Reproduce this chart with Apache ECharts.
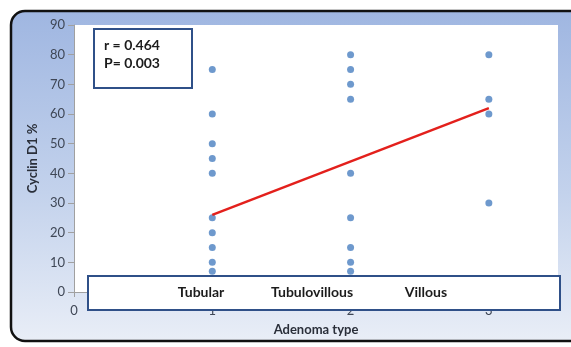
<!DOCTYPE html>
<html>
<head>
<meta charset="utf-8">
<script src="https://cdn.jsdelivr.net/npm/echarts@6/dist/echarts.min.js"></script>
<style>
html,body{margin:0;padding:0;background:#fff;}
#chart{width:571px;height:347px;}
</style>
</head>
<body>
<div id="chart"></div>
<script>
// Data
var categories = ['Tubular', 'Tubulovillous', 'Villous'];
var tubularX = [1, 1, 1, 1, 1, 1, 1, 1, 1, 1];
var tubularY = [75, 60, 50, 45, 40, 25, 20, 15, 10, 7];
var tubulovillousX = [2, 2, 2, 2, 2, 2, 2, 2, 2];
var tubulovillousY = [80, 75, 70, 65, 40, 25, 15, 10, 7];
var villousX = [3, 3, 3, 3];
var villousY = [80, 65, 60, 30];
var trendX = [1, 3];
var trendY = [26, 62];
var yTicks = [0, 10, 20, 30, 40, 50, 60, 70, 80, 90];
var statsText = ['r = 0.464', 'P= 0.003'];
var yAxisTitle = 'Cyclin D1 %';
var xAxisTitle = 'Adenoma type';

function zip(xs, ys) { return xs.map(function (x, i) { return [x, ys[i]]; }); }
var points = zip(tubularX, tubularY).concat(zip(tubulovillousX, tubulovillousY), zip(villousX, villousY));

var chart = echarts.init(document.getElementById('chart'), null, {renderer: 'canvas'});
var font = 'Lato, "Open Sans", sans-serif';
var dark = '#2a2f3a';
var boxBlue = '#2f5088';

var catPos = [201, 312, 426];

chart.setOption({
  animation: false,
  textStyle: {fontFamily: font},
  grid: {left: 74, top: 25, right: 13, bottom: 55, show: true, backgroundColor: '#ffffff', borderWidth: 0},
  xAxis: {
    type: 'value', min: 0, max: 3.5, interval: 1,
    name: xAxisTitle, nameLocation: 'middle', nameGap: 31,
    nameTextStyle: {fontFamily: font, fontWeight: 'bold', fontSize: 13, color: dark},
    axisLine: {show: true, lineStyle: {color: '#a0a0a0', width: 1}},
    axisTick: {show: true, length: 5, lineStyle: {color: '#a0a0a0'}},
    axisLabel: {fontFamily: font, fontSize: 13, color: '#3f4756', margin: 12,
      formatter: function (v) { return v === 3.5 ? '' : String(v); }},
    splitLine: {show: false}
  },
  yAxis: {
    type: 'value', min: 0, max: 90, interval: 10,
    name: yAxisTitle, nameLocation: 'middle', nameGap: 34, nameRotate: 90,
    nameTextStyle: {fontFamily: font, fontWeight: 'bold', fontSize: 13, color: dark},
    axisLine: {show: true, lineStyle: {color: '#a0a0a0', width: 1}},
    axisTick: {show: true, length: 6, lineStyle: {color: '#a0a0a0'}},
    axisLabel: {fontFamily: font, fontSize: 13, color: '#3f4756', margin: 9,
      formatter: function (v) { return yTicks.indexOf(v) >= 0 ? String(v) : ''; }},
    splitLine: {show: false}
  },
  graphic: [
    {type: 'rect', z: -10, silent: true,
      shape: {x: 11, y: 11, width: 600, height: 330, r: 14},
      style: {fill: new echarts.graphic.LinearGradient(0, 0, 0, 1, [
        {offset: 0, color: '#9fb6e1'}, {offset: 0.55, color: '#c3d2ec'}, {offset: 1, color: '#e9eef7'}]),
        stroke: '#111111', lineWidth: 2.5}},
    {type: 'rect', z: 100, silent: true,
      shape: {x: 94, y: 29, width: 98, height: 59},
      style: {fill: '#ffffff', stroke: boxBlue, lineWidth: 2}},
    {type: 'text', z: 101, silent: true, left: 104, top: 36,
      style: {text: statsText.join('\n'), font: 'bold 14px ' + font, fill: '#1c1c1c', lineHeight: 18}},
    {type: 'rect', z: 100, silent: true,
      shape: {x: 88, y: 276, width: 472, height: 34},
      style: {fill: '#ffffff', stroke: boxBlue, lineWidth: 2}}
  ].concat(categories.map(function (c, i) {
    return {type: 'text', z: 101, silent: true, x: catPos[i], y: 292,
      style: {text: c, font: 'bold 14px ' + font, fill: '#1c1c1c', textAlign: 'center', textVerticalAlign: 'middle'}};
  })),
  series: [
    {type: 'scatter', data: points, symbol: 'circle', symbolSize: 7,
      itemStyle: {color: '#4a7fc1'}, z: 3},
    {type: 'line', data: zip(trendX, trendY), symbol: 'none',
      lineStyle: {color: '#e3201c', width: 2.5}, z: 4}
  ]
});
</script>
</body>
</html>
